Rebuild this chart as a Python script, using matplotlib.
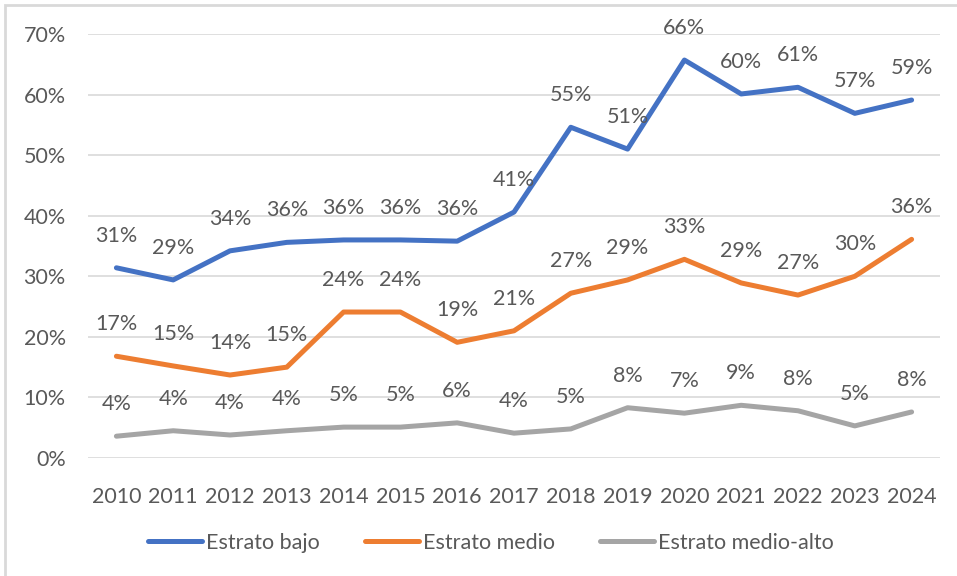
import numpy as np
import matplotlib
matplotlib.use("Agg")
import matplotlib.pyplot as plt
from matplotlib.patches import Rectangle

plt.rcParams["font.family"] = ["Lato", "DejaVu Sans"]

anios = [2010, 2011, 2012, 2013, 2014, 2015, 2016, 2017,
         2018, 2019, 2020, 2021, 2022, 2023, 2024]

# porcentajes
estrato_bajo = [31.4, 29.4, 34.2, 35.6, 36.0, 36.0, 35.8, 40.6,
                54.6, 51.0, 65.7, 60.1, 61.2, 56.9, 59.1]
estrato_medio = [16.8, 15.2, 13.7, 15.0, 24.1, 24.1, 19.1, 21.0,
                 27.2, 29.4, 32.8, 28.9, 26.9, 30.0, 36.1]
estrato_medio_alto = [3.6, 4.5, 3.8, 4.5, 5.1, 5.1, 5.8, 4.1,
                      4.8, 8.3, 7.4, 8.7, 7.8, 5.3, 7.6]

series = [
    ("Estrato bajo", estrato_bajo, "#4472C4"),
    ("Estrato medio", estrato_medio, "#ED7D31"),
    ("Estrato medio-alto", estrato_medio_alto, "#A5A5A5"),
]

texto = "#595959"
fs = 15.5
fig = plt.figure(figsize=(9.57, 5.76), dpi=100)
ax = fig.add_axes([88 / 957, 118 / 576, 852 / 957, 424 / 576])

x = np.arange(len(anios))
for nombre, valores, color in series:
    ax.plot(x, valores, color=color, linewidth=3.6, label=nombre,
            solid_capstyle="round", solid_joinstyle="round")
    for xi, v in zip(x, valores):
        ax.annotate(f"{v:.0f}%", (xi, v), xytext=(0, 23), textcoords="offset points",
                    ha="center", va="center", fontsize=fs, color=texto)

ax.set_xlim(-0.5, len(anios) - 0.5)
ax.set_ylim(0, 70)
ax.set_yticks(np.arange(0, 71, 10))
ax.set_yticklabels([f"{t}%" for t in range(0, 71, 10)])
ax.set_xticks(x)
ax.set_xticklabels([str(a) for a in anios])
ax.tick_params(axis="both", length=0, labelsize=fs, labelcolor=texto)
ax.tick_params(axis="y", pad=16)
ax.tick_params(axis="x", pad=21)
ax.grid(axis="y", color="#D9D9D9", linewidth=1.2)
ax.set_axisbelow(True)
for s in ax.spines.values():
    s.set_visible(False)

leg = fig.legend(loc="center", bbox_to_anchor=(0.513, 1 - 543 / 576), ncol=3,
                 frameon=False, fontsize=fs, handlelength=2.5,
                 handletextpad=0.2, columnspacing=2.1)
for t in leg.get_texts():
    t.set_color(texto)

# borde del area del grafico
fig.patches.append(Rectangle((5 / 957, -0.1), 1.2, 1 - 5 / 576 + 0.1,
                             transform=fig.transFigure, fill=False,
                             edgecolor="#D9D9D9", linewidth=2))

fig.savefig("out.png", dpi=100)
plt.close(fig)
